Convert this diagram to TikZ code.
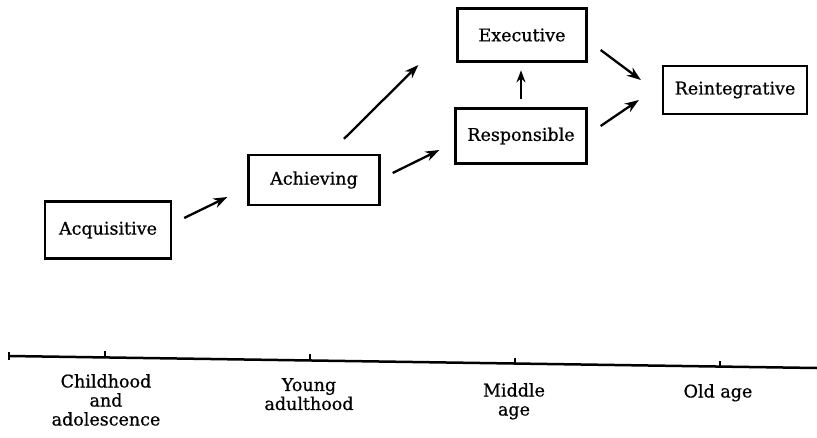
\documentclass[tikz,border=0pt]{standalone}
\usepackage{fontspec}
\setmainfont{DejaVu Serif}[FakeBold=0.7]
\usetikzlibrary{calc,arrows.meta}
\begin{document}
\begin{tikzpicture}[x=1pt,y=-1pt,
  stage/.style={draw,line width=2.3pt,inner sep=0pt,font=\fontsize{17.5}{20}\selectfont},
  arr/.style={line width=2.3pt,-{Stealth[length=14pt,width=10pt]}},
  lbl/.style={inner sep=0pt,anchor=north,align=center,font=\fontsize{17.5}{19}\selectfont},
  tick/.style={line width=1.4pt}]
\useasboundingbox (0,0) rectangle (817,437);
\node[stage,minimum width=126pt,minimum height=57pt] (acq) at (108,230) {Acquisitive};
\node[stage,minimum width=131pt,minimum height=50pt] (ach) at (314,180) {Achieving};
\node[stage,minimum width=129pt,minimum height=53pt] (exe) at (522,35) {Executive};
\node[stage,minimum width=131pt,minimum height=55pt] (res) at (521,136) {Responsible};
\node[stage,minimum width=144pt,minimum height=48pt] (rei) at (735,90) {Reintegrative};
\draw[arr] ($(acq.east)+(12,-12)$) -- ($(ach.west)+(-20,17)$);
\draw[arr] ($(ach.east)+(12,-7)$) -- ($(res.west)+(-15,14)$);
\draw[arr] ($(ach.north)+(30,-15)$) -- ($(exe.west)+(-38,30)$);
\draw[arr,-{Stealth[length=12pt,width=9pt]}] ($(res.north)+(0,-8)$) -- ($(res.north)+(0,-37)$);
\draw[arr] ($(exe.east)+(13,15)$) -- ($(rei.west)+(-21,-10)$);
\draw[arr] ($(res.east)+(13,-10)$) -- ($(rei.west)+(-23,10)$);
% time axis
\coordinate (axL) at (9,356);
\coordinate (axR) at (817,368);
\draw[line width=2.5pt] (axL) -- (axR);
\draw[tick] ($(axL)+(0,-4)$) -- ($(axL)+(0,4)$);
\foreach \x/\n in {105/t1,310/t2,515/t3,720/t4}{
  \coordinate (\n) at ($(axL)!{(\x-9)/808}!(axR)$);
  \draw[tick] (\n) -- ++(0,-6);
}
\node[lbl] (l1) at (106,374) {Childhood\\and\\adolescence};
\node[lbl] (l2) at (309,378) {Young\\adulthood};
\node[lbl] (l3) at (514,383) {Middle\\age};
\node[lbl] (l4) at (718,384) {Old age};
\end{tikzpicture}
\end{document}
